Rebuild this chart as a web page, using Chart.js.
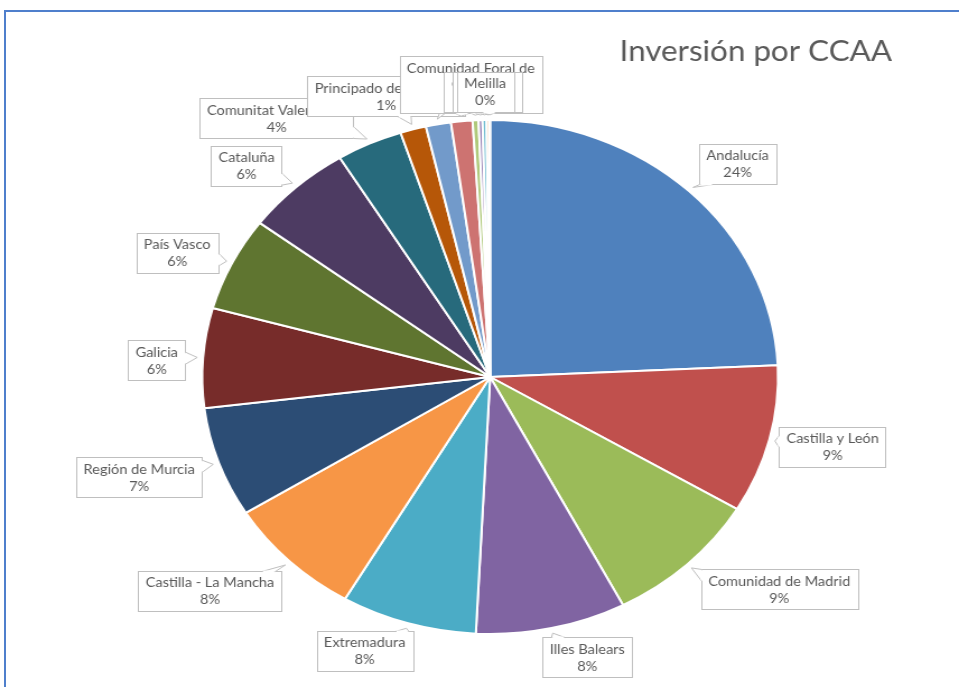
<!DOCTYPE html>
<html>
<head>
<meta charset="utf-8">
<script src="https://cdn.jsdelivr.net/npm/chart.js@4"></script>
<style>
  html, body { margin: 0; padding: 0; background: #fff; overflow: hidden; width: 959px; height: 687px; }
  #frame { position: absolute; left: 4px; top: 10px; width: 960px; height: 690px;
           border-left: 2px solid #4f7fcc; border-top: 2px solid #4f7fcc; box-sizing: border-box; }
  #wrap { position: absolute; left: 0; top: 0; width: 856px; height: 687px;
          transform-origin: 0 0; transform: scale(1.12033, 1); }
</style>
</head>
<body>
<div id="frame"></div>
<div id="wrap"><canvas id="c" width="856" height="687"></canvas></div>
<script>
// ---- data ----
const chartTitle = 'Inversión por CCAA';
const categories = [
  'Andalucía', 'Castilla y León', 'Comunidad de Madrid', 'Illes Balears', 'Extremadura',
  'Castilla - La Mancha', 'Región de Murcia', 'Galicia', 'País Vasco', 'Cataluña',
  'Comunitat Valenciana', 'Principado de Asturias', 'Aragón', 'Comunidad Foral de Navarra',
  'Cantabria', 'La Rioja', 'Canarias', 'Ceuta', 'Melilla'
];
const investmentShare = [
  24.2, 9.3, 8.75, 8.4, 7.6,
  7.7, 6.9, 6.25, 5.9, 6.0,
  3.7, 1.45, 1.4, 1.2,
  0.33, 0.22, 0.22, 0.15, 0.05
];
const sliceColors = [
  '#4F81BD', '#C0504D', '#9BBB59', '#8064A2', '#4BACC6', '#F79646',
  '#2C4D75', '#772C2A', '#5F7530', '#4D3B62', '#276A7C', '#B65708',
  '#729ACA', '#CD7371', '#AFC97A', '#9983B5', '#6FBDD1', '#F9AB6B', '#3A6595'
];

// label placement (angle offset in degrees from slice middle, distance factor of radius)
const labelPlacement = [
  [2.3, 1.195], [-1.3, 1.22], [-7.3, 1.30], [-4.9, 1.14], [5.7, 1.15],
  [5.3, 1.28], [1.7, 1.28], [-1.0, 1.16], [-2.2, 1.19], [-3.5, 1.18],
  [-11.6, 1.25], [-2.8, 1.15], [6.0, 1.14], [2.3, 1.14],
  [1.5, 1.11], [1.0, 1.11], [0.6, 1.11], [-0.2, 1.11], [-0.8, 1.11]
];

const FONT = '13px Lato, "Open Sans", sans-serif';
const TEXT_COLOR = '#595959';
const BOX_BORDER = '#bfbfbf';

function wrapText(ctx, text, maxW) {
  const words = text.split(' ');
  const lines = [];
  let cur = '';
  for (const w of words) {
    const test = cur ? cur + ' ' + w : w;
    if (cur && ctx.measureText(test).width > maxW) { lines.push(cur); cur = w; }
    else cur = test;
  }
  if (cur) lines.push(cur);
  return lines;
}

const calloutPlugin = {
  id: 'callouts',
  afterDatasetsDraw(chart) {
    const ctx = chart.ctx;
    const meta = chart.getDatasetMeta(0);
    const vals = chart.data.datasets[0].data;
    const total = vals.reduce((a, b) => a + b, 0);
    ctx.save();
    ctx.font = FONT;
    const lineH = 17, padX = 6.5, padY = 3;
    meta.data.forEach((arc, i) => {
      const p = arc.getProps(['x', 'y', 'startAngle', 'endAngle', 'outerRadius'], true);
      const mid = (p.startAngle + p.endAngle) / 2;
      const [dDeg, k] = labelPlacement[i];
      const la = mid + dDeg * Math.PI / 180;
      const R = p.outerRadius;
      const cx = p.x + k * R * Math.cos(la);
      const cy = p.y + k * R * Math.sin(la);
      const tx = p.x + 1.02 * R * Math.cos(mid);
      const ty = p.y + 1.02 * R * Math.sin(mid);
      const pct = Math.round(vals[i] / total * 100) + '%';
      const lines = wrapText(ctx, chart.data.labels[i], 140);
      lines.push(pct);
      const tw = Math.max(...lines.map(l => ctx.measureText(l).width));
      const hw = tw / 2 + padX, hh = (lines.length * lineH) / 2 + padY;
      const x0 = Math.round(cx - hw) + 0.5, y0 = Math.round(cy - hh) + 0.5;
      const w = Math.round(hw * 2), h = Math.round(hh * 2);
      // box
      ctx.fillStyle = '#fff';
      ctx.strokeStyle = BOX_BORDER;
      ctx.lineWidth = 1;
      ctx.fillRect(x0, y0, w, h);
      ctx.strokeRect(x0, y0, w, h);
      // tail
      const dx = tx - cx, dy = ty - cy;
      const tX = Math.abs(dx) > 1e-6 ? hw / Math.abs(dx) : Infinity;
      const tY = Math.abs(dy) > 1e-6 ? hh / Math.abs(dy) : Infinity;
      if (Math.min(tX, tY) < 1) {
        let b1, b2;
        const bw = 6;
        if (tX < tY) {
          const sx = dx > 0 ? x0 + w : x0;
          let py = cy + dy * tX;
          py = Math.max(y0 + bw, Math.min(y0 + h - bw, py));
          b1 = [sx, py - bw]; b2 = [sx, py + bw];
        } else {
          const sy = dy > 0 ? y0 + h : y0;
          let px = cx + dx * tY;
          px = Math.max(x0 + bw, Math.min(x0 + w - bw, px));
          b1 = [px - bw, sy]; b2 = [px + bw, sy];
        }
        ctx.beginPath();
        ctx.moveTo(b1[0], b1[1]); ctx.lineTo(tx, ty); ctx.lineTo(b2[0], b2[1]); ctx.closePath();
        ctx.fill();
        ctx.beginPath();
        ctx.moveTo(b1[0], b1[1]); ctx.lineTo(tx, ty); ctx.lineTo(b2[0], b2[1]);
        ctx.stroke();
        // erase box border under tail base
        ctx.strokeStyle = '#fff';
        ctx.lineWidth = 2;
        ctx.beginPath();
        const ex = (b2[0] - b1[0]) === 0 ? 0 : 1, ey = ex ? 0 : 1;
        ctx.moveTo(b1[0] + ex * 1, b1[1] + ey * 1);
        ctx.lineTo(b2[0] - ex * 1, b2[1] - ey * 1);
        ctx.stroke();
      }
      // text
      ctx.fillStyle = TEXT_COLOR;
      ctx.textAlign = 'center';
      ctx.textBaseline = 'middle';
      const top = cy - (lines.length - 1) / 2 * lineH;
      lines.forEach((l, j) => ctx.fillText(l, cx, top + j * lineH + 1));
    });
    // title
    ctx.font = '28px Lato, "Open Sans", sans-serif';
    ctx.fillStyle = TEXT_COLOR;
    ctx.textAlign = 'left';
    ctx.textBaseline = 'alphabetic';
    ctx.fillText(chartTitle, 553, 61);
    ctx.restore();
  }
};

new Chart(document.getElementById('c'), {
  type: 'pie',
  data: {
    labels: categories,
    datasets: [{
      data: investmentShare,
      backgroundColor: sliceColors,
      borderColor: '#ffffff',
      borderWidth: 2
    }]
  },
  options: {
    responsive: false,
    animation: false,
    layout: { padding: { top: 119, bottom: 52, left: 179.5, right: 160.5 } },
    plugins: { legend: { display: false }, tooltip: { enabled: false }, title: { display: false } }
  },
  plugins: [calloutPlugin]
});
</script>
</body>
</html>
